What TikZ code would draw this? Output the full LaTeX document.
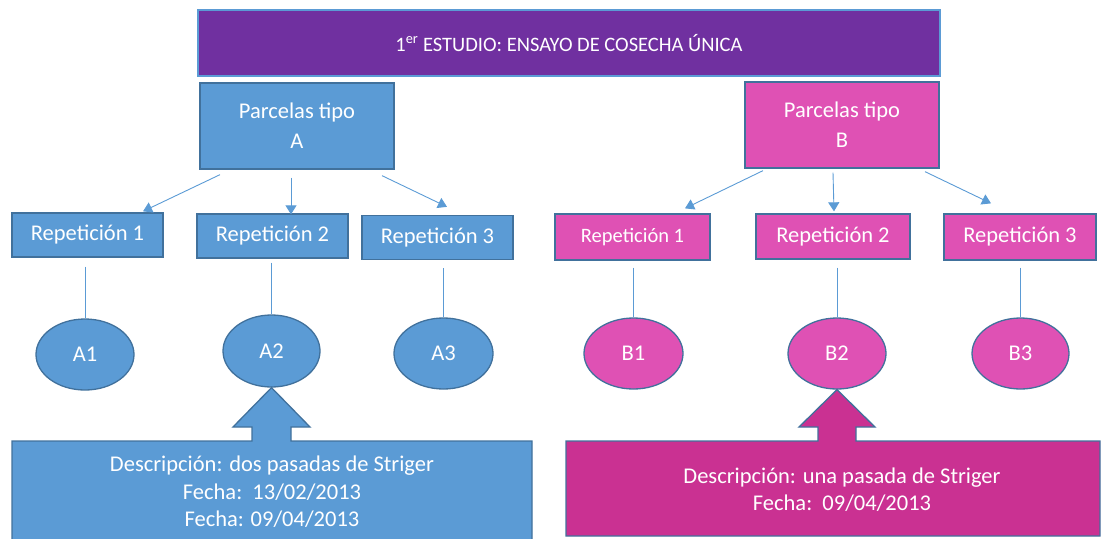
\documentclass[tikz,border=0pt]{standalone}
\usepackage{fontspec}
\setmainfont{Carlito}
\usetikzlibrary{calc, positioning, shapes.geometric, arrows.meta}
\definecolor{azul}{HTML}{5B9BD5}
\definecolor{azulborde}{HTML}{41719C}
\definecolor{morado}{HTML}{7030A0}
\definecolor{rosa}{HTML}{DF51B4}
\definecolor{rosaosc}{HTML}{CA3192}
\tikzset{
  caja/.style={rectangle, draw=azulborde, line width=1.3pt, text=white, inner sep=0pt,
    align=center, font=\fontsize{22.5}{30}\selectfont},
  cajaA/.style={caja, fill=azul},
  cajaB/.style={caja, fill=rosa},
  rep/.style={minimum width=151pt, minimum height=44pt},
  elip/.style={ellipse, draw=azulborde, line width=1.3pt, text=white, inner sep=0pt,
    minimum width=98pt, minimum height=71pt, font=\fontsize{22.5}{27}\selectfont},
  flecha/.style={azul, line width=0.9pt, -{Triangle[width=11pt,length=9pt]}},
  linea/.style={azul, line width=0.9pt},
  texto/.style={text=white, align=center, font=\fontsize{22.5}{27.5}\selectfont}
}

\begin{document}
\begin{tikzpicture}[x=1pt, y=-1pt]
  \useasboundingbox (0,0) rectangle (1102,538);
  \clip (0,0) rectangle (1102,538);
  \node (titulo) at (569,43) [caja, fill=morado, draw=azul, minimum width=742pt, minimum height=66pt,
    font=\fontsize{20.5}{24}\selectfont] {1\textsuperscript{er} ESTUDIO: ENSAYO DE COSECHA ÚNICA};
  \node (pA) at (297,126) [cajaA, minimum width=194pt, minimum height=86pt] {Parcelas tipo\\A};
  \node (pB) at (842,125) [cajaB, minimum width=194pt, minimum height=86pt] {Parcelas tipo\\B};

  \node (rA1) at (87.5,235) [cajaA, rep] {Repetición 1};
  \node (rA2) at (272.5,236) [cajaA, rep] {Repetición 2};
  \node (rA3) at (437.5,237.5) [cajaA, rep] {Repetición 3};
  \node (rB1) at (632.5,237) [cajaB, rep, minimum width=155pt, minimum height=46pt,
    font=\fontsize{20.5}{24}\selectfont] {Repetición 1};
  \node (rB2) at (833,236.5) [cajaB, rep, minimum width=154pt, minimum height=45pt] {Repetición 2};
  \node (rB3) at (1020,237) [cajaB, rep, minimum width=152pt, minimum height=46pt] {Repetición 3};

  \node (eA1) at (85,354.5) [elip, fill=azul] {A1};
  \node (eA2) at (271.5,351) [elip, fill=azul, minimum width=97pt, minimum height=72pt] {A2};
  \node (eA3) at (443.5,353.5) [elip, fill=azul, minimum width=99pt] {A3};
  \node (eB1) at (633.5,353.5) [elip, fill=rosa, minimum width=99pt] {B1};
  \node (eB2) at (837,353.5) [elip, fill=rosa] {B2};
  \node (eB3) at (1020.5,353.5) [elip, fill=rosa, minimum width=97pt] {B3};

  \draw [flecha] ($(pA.south)+(-77,5)$) -- ($(rA1.north)+(55.5,-1)$);
  \draw [flecha] ($(pA.south)+(-6,8)$) -- ($(rA2.north)+(18.5,1)$);
  \draw [flecha] ($(pA.south)+(85,6)$) -- ($(rA3.north)+(9.5,-8)$);
  \draw [flecha] ($(pB.south)+(-79,2)$) -- ($(rB1.north)+(52.5,-5)$);
  \draw [flecha] ($(pB.south)+(-9,4)$) -- ($(rB2.north)+(1,-2)$);
  \draw [flecha] ($(pB.south)+(83,3)$) -- ($(rB3.north)+(-29,-10)$);

  \draw [linea] ($(eA1.north |- rA1.south)+(0,9)$) -- (eA1.north);
  \draw [linea] ($(eA2.north |- rA2.south)+(0,4)$) -- (eA2.north);
  \draw [linea] ($(eA3.north |- rA3.south)+(0,8)$) -- (eA3.north);
  \draw [linea] ($(eB1.north |- rB1.south)+(0,7)$) -- (eB1.north);
  \draw [linea] ($(eB2.north |- rB2.south)+(0,8)$) -- (eB2.north);
  \draw [linea] ($(eB3.north |- rB3.south)+(0,7)$) -- (eB3.north);

  \draw [draw=azulborde, line width=1.3pt, fill=azul] (12,441) -- (252,441) -- (252,427) -- (233,427)
    -- (eA2.south) -- (310,427) -- (291,427) -- (291,441) -- (532,441) -- (532,548) -- (12,548) -- cycle;
  \draw [draw=azulborde, line width=1.3pt, fill=rosaosc] (566,441) -- (818,441) -- (818,427) -- (799,427)
    -- (eB2.south) -- (875,427) -- (856,427) -- (856,441) -- (1100,441) -- (1100,536) -- (566,536) -- cycle;
  \node (dA) at (272,492) [texto] {Descripción: dos pasadas de Striger\\Fecha:~~13/02/2013\\Fecha: 09/04/2013};
  \node (dB) at (842,489.5) [texto] {Descripción: una pasada de Striger\\Fecha:~~09/04/2013};
\end{tikzpicture}
\end{document}
